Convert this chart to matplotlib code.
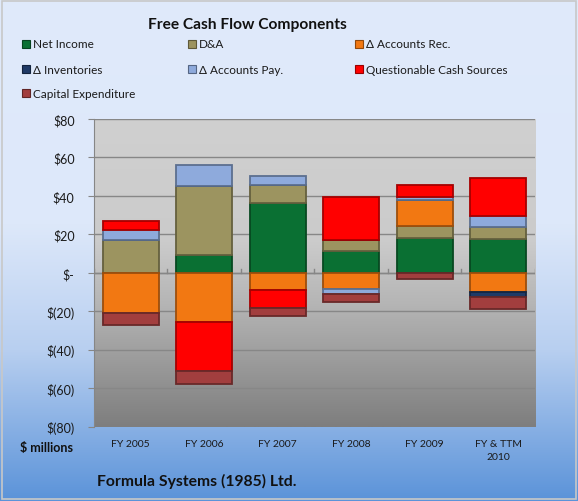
import numpy as np
import matplotlib
matplotlib.use('Agg')
import matplotlib.pyplot as plt
from matplotlib.colors import LinearSegmentedColormap, to_rgb
from matplotlib.patches import Rectangle

plt.rcParams['font.family'] = ['Lato', 'DejaVu Sans']

years = ['FY 2005', 'FY 2006', 'FY 2007', 'FY 2008', 'FY 2009', 'FY & TTM\n2010']
net_income = [0.0, 9.2, 36.4, 11.2, 18.2, 17.8]
d_and_a = [17.3, 36.2, 9.5, 6.1, 6.0, 6.1]
accounts_rec = [-20.8, -25.7, -8.7, -8.3, 13.6, -10.1]
inventories = [0.0, 0.0, 0.0, 0.0, 0.0, -2.6]
accounts_pay = [5.2, 10.6, 4.3, -2.6, 1.7, 5.5]
questionable = [4.3, -25.5, -9.5, 22.2, 6.1, 20.0]
capex = [-6.4, -6.5, -4.4, -4.4, -3.1, -5.9]

series = [
    ('Net Income', net_income, '#0a7033'),
    ('D&A', d_and_a, '#9c9460'),
    ('Δ Accounts Rec.', accounts_rec, '#f27812'),
    ('Δ Inventories', inventories, '#1f3a66'),
    ('Δ Accounts Pay.', accounts_pay, '#8eaadc'),
    ('Questionable Cash Sources', questionable, '#ff0000'),
    ('Capital Expenditure', capex, '#a23e3e'),
]


def darker(c, f=0.6):
    r, g, b = to_rgb(c)
    return (r * f, g * f, b * f)


fig = plt.figure(figsize=(5.78, 5.02), dpi=100)

# figure background gradient
bg = fig.add_axes([0, 0, 1, 1], zorder=-10)
bg_cmap = LinearSegmentedColormap.from_list(
    'bg', [(0, '#e0eafb'), (0.45, '#dde8fa'), (0.7, '#b8cff0'), (1, '#5b93d9')])
grad = np.linspace(0, 1, 256).reshape(-1, 1)
bg.imshow(grad, aspect='auto', cmap=bg_cmap, extent=[0, 1, 0, 1], origin='upper')
bg.add_patch(Rectangle((0.004, 0.004), 0.992, 0.992, fill=False,
                       edgecolor='#c8c8c8', lw=1.2, transform=bg.transAxes))
bg.set_xlim(0, 1)
bg.set_ylim(0, 1)
bg.axis('off')

ax = fig.add_axes([0.1626, 0.148, 0.763, 0.613])
x = np.arange(len(years))
ax.set_xlim(-0.5, len(years) - 0.5)
ax.set_ylim(-80, 80)

# plot area gradient
pa_cmap = LinearSegmentedColormap.from_list(
    'pa', [(0, '#d0d0d0'), (0.4, '#cbcbcb'), (0.6, '#b5b5b5'), (1, '#7e7e7e')])
ax.imshow(grad, aspect='auto', cmap=pa_cmap, extent=[-0.5, len(years) - 0.5, -80, 80],
          origin='upper', zorder=0)

for v in range(-60, 81, 20):
    ax.axhline(v, color='#878787', lw=1.0, zorder=1)

pos_bottom = np.zeros(len(years))
neg_bottom = np.zeros(len(years))
for name, vals, color in series:
    vals = np.array(vals)
    bottom = np.where(vals >= 0, pos_bottom, neg_bottom)
    ax.bar(x, vals, width=0.76, bottom=bottom, color=color,
           edgecolor=darker(color, 0.65), linewidth=1.3, zorder=3, label=name)
    pos_bottom += np.where(vals >= 0, vals, 0)
    neg_bottom += np.where(vals < 0, vals, 0)

# category axis at zero with ticks between categories
ax.axhline(0, color='#868686', lw=1.0, zorder=2)
for b in np.arange(-0.5, len(years), 1.0):
    ax.plot([b, b], [0, 2.2], color='#868686', lw=1.0, zorder=2)

ax.set_yticks(range(-80, 81, 20))
ax.set_yticklabels(['$(80)', '$(60)', '$(40)', '$(20)', '$-', '$20', '$40', '$60', '$80'])
ax.set_xticks(x)
ax.set_xticklabels(years, linespacing=1.6)
ax.tick_params(axis='y', length=4, color='#868686', labelsize=9, pad=10, labelcolor='#1a1a1a')
ax.tick_params(axis='x', length=0, labelsize=7.5, pad=9, labelcolor='#1a1a1a')
for s in ['top', 'right', 'bottom']:
    ax.spines[s].set_visible(False)
ax.spines['left'].set_color('#868686')

# title and legend
fig.text(247 / 578, 0.95, 'Free Cash Flow Components', ha='center', va='center',
         fontsize=11.2, fontweight='bold', color='#111111')
col_x = [22, 188, 355]
row_y = [45, 70, 94]
for i, (name, vals, color) in enumerate(series):
    r, c = divmod(i, 3)
    px, py = col_x[c], row_y[r]
    fig.patches.append(Rectangle((px / 578, 1 - (py + 4) / 502), 8 / 578, 8 / 502,
                                 facecolor=color, edgecolor=darker(color, 0.6), lw=0.8,
                                 transform=fig.transFigure, figure=fig))
    fig.text((px + 11) / 578, 1 - py / 502, name, ha='left', va='center',
             fontsize=8.5, color='#1a1a1a')

fig.text(47 / 578, 1 - 448 / 502, '$ millions', ha='center', va='center',
         fontsize=9, fontweight='bold', color='#111111')
fig.text(97 / 578, 1 - 481 / 502, 'Formula Systems (1985) Ltd.', ha='left', va='center',
         fontsize=11.3, fontweight='bold', color='#111111')

fig.savefig('out.png', dpi=100)
